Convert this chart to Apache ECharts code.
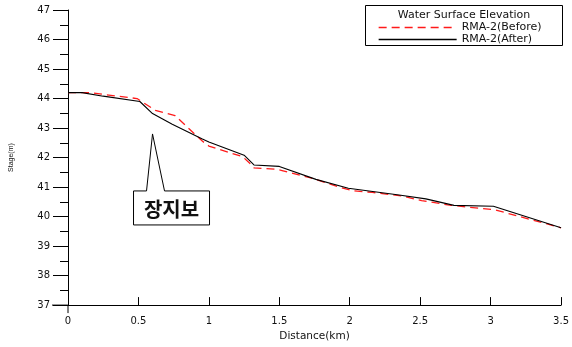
<!DOCTYPE html>
<html>
<head>
<meta charset="utf-8">
<script src="https://cdn.jsdelivr.net/npm/echarts@6/dist/echarts.min.js"></script>
<style>
html,body{margin:0;padding:0;background:#fff;}
#chart{width:572px;height:347px;}
</style>
</head>
<body>
<div id="chart"></div>
<script>
// Data
var legendTitle = 'Water Surface Elevation';
var seriesNames = ['RMA-2(Before)', 'RMA-2(After)'];
var xTicks = [0, 0.5, 1, 1.5, 2, 2.5, 3, 3.5];
var yTicks = [37, 38, 39, 40, 41, 42, 43, 44, 45, 46, 47];

var distBefore = [0, 0.15, 0.49, 0.62, 0.76, 0.955, 1.0, 1.145, 1.24, 1.3, 1.32, 1.48, 1.52, 1.73, 1.94, 2.03, 2.16, 2.37, 2.51, 2.72, 3.03, 3.5];
var stageBefore = [44.2, 44.2, 44.0, 43.6, 43.42, 42.55, 42.39, 42.17, 42.03, 41.76, 41.65, 41.6, 41.56, 41.3, 40.98, 40.87, 40.82, 40.7, 40.54, 40.38, 40.23, 39.62];

var distAfter = [0, 0.1, 0.25, 0.51, 0.6, 0.74, 0.95, 1.0, 1.25, 1.32, 1.5, 1.76, 1.99, 2.35, 2.54, 2.74, 3.02, 3.5];
var stageAfter = [44.2, 44.2, 44.08, 43.9, 43.49, 43.13, 42.64, 42.53, 42.08, 41.75, 41.7, 41.26, 40.96, 40.73, 40.6, 40.38, 40.35, 39.62];

var calloutText = '장지보';
var calloutTip = [0.6, 42.8];

function pairs(xs, ys) { return xs.map(function (x, i) { return [x, ys[i]]; }); }

var chart = echarts.init(document.getElementById('chart'));
var font = 'DejaVu Sans, Verdana, sans-serif';
var option = {
  animation: false,
  backgroundColor: '#fff',
  grid: { left: 68, right: 9, top: 10, bottom: 36, containLabel: false },
  xAxis: {
    type: 'value', min: xTicks[0], max: xTicks[xTicks.length - 1], interval: 0.5,
    name: 'Distance(km)', nameLocation: 'middle', nameGap: 21,
    nameTextStyle: { fontFamily: font, fontSize: 10.5, color: '#111' },
    axisLine: { onZero: false, lineStyle: { color: '#000', width: 1 } },
    axisTick: { inside: true, length: 8, lineStyle: { color: '#000' } },
    axisLabel: { fontFamily: font, fontSize: 10, color: '#111', margin: 11 },
    splitLine: { show: false }
  },
  yAxis: {
    type: 'value', min: yTicks[0], max: yTicks[yTicks.length - 1], interval: 1,
    name: 'Stage(m)', nameLocation: 'middle', nameGap: 53,
    nameTextStyle: { fontFamily: 'Liberation Sans, Arial, sans-serif', fontSize: 7, color: '#111' },
    axisLine: { show: true, onZero: false, lineStyle: { color: '#000', width: 1 } },
    axisTick: { show: true, length: 15, lineStyle: { color: '#000' } },
    minorTick: { show: true, splitNumber: 2, length: 8, lineStyle: { color: '#000' } },
    axisLabel: { fontFamily: font, fontSize: 10, color: '#111', margin: 18 },
    splitLine: { show: false }
  },
  legend: {
    orient: 'vertical', left: 373, top: 17, itemGap: 1,
    itemWidth: 78, itemHeight: 11,
    itemStyle: { opacity: 0 },
    lineStyle: { width: 1.3, color: 'inherit', type: 'inherit', opacity: 1 },
    data: [seriesNames[0], seriesNames[1]],
    textStyle: { fontFamily: font, fontSize: 11, color: '#111' }
  },
  series: [
    {
      name: seriesNames[0], type: 'line', data: pairs(distBefore, stageBefore),
      symbol: 'none', z: 3,
      lineStyle: { color: '#ff1a1a', width: 1.3, type: [8, 5] },
      itemStyle: { color: '#ff1a1a' }
    },
    {
      name: seriesNames[1], type: 'line', data: pairs(distAfter, stageAfter),
      symbol: 'none', z: 4,
      lineStyle: { color: '#000', width: 1.1 },
      itemStyle: { color: '#000' }
    }
  ]
};
chart.setOption(option);

// Annotation and legend frame
var tip = chart.convertToPixel({ gridIndex: 0 }, calloutTip);
var bx0 = tip[0] - 19, bx1 = tip[0] + 57, by0 = tip[1] + 57, by1 = tip[1] + 91;
var o = chart.convertToPixel({ gridIndex: 0 }, [0, 37]);
chart.setOption({
  graphic: [
    { type: 'rect', shape: { x: 365.5, y: 5.5, width: 197, height: 40 },
      style: { fill: 'none', stroke: '#000', lineWidth: 1 }, z: 10 },
    { type: 'text', x: 464, y: 15, style: { text: legendTitle, fontFamily: font, fontSize: 11, fill: '#111', textAlign: 'center', textVerticalAlign: 'middle' }, z: 10 },
    { type: 'polyline', shape: { points: [
        [tip[0] - 6, by0], [bx0, by0], [bx0, by1], [bx1, by1], [bx1, by0], [tip[0] + 12, by0], [tip[0], tip[1]], [tip[0] - 6, by0]
      ] }, style: { fill: '#fff', stroke: '#000', lineWidth: 1 }, z: 10 },
    { type: 'text', x: (bx0 + bx1) / 2, y: (by0 + by1) / 2 + 1,
      style: { text: calloutText, fontFamily: 'Noto Sans CJK KR', fontWeight: 'bold', fontSize: 20, fill: '#111', textAlign: 'center', textVerticalAlign: 'middle' }, z: 11 },
    { type: 'line', shape: { x1: o[0] - 16, y1: o[1], x2: o[0], y2: o[1] }, style: { stroke: '#000', lineWidth: 1 } },
    { type: 'line', shape: { x1: o[0], y1: o[1], x2: o[0], y2: o[1] + 8 }, style: { stroke: '#000', lineWidth: 1 } }
  ]
});
</script>
</body>
</html>
